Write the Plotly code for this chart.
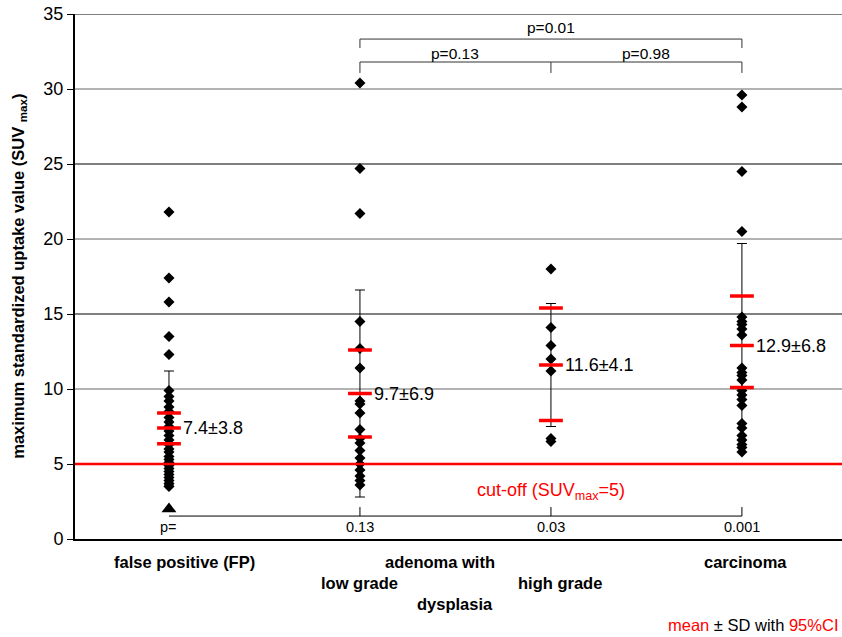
import plotly.graph_objects as go

# ---------------- data ----------------
group_pos = [1, 2, 3, 4]
fp_values = [21.8, 17.4, 15.8, 13.5, 12.3, 9.9, 9.5, 9.2, 8.8, 8.5, 8.1, 7.8, 7.5, 7.2,
             6.9, 6.6, 6.3, 6.0, 5.8, 5.5, 5.3, 5.1, 4.9, 4.7, 4.5, 4.3, 4.1, 3.9,
             3.7, 3.5]
fp_excluded = [2.0]
lg_values = [30.4, 24.7, 21.7, 14.5, 12.7, 11.4, 9.2, 9.0, 8.4, 7.3, 6.7, 6.4, 5.9,
             5.4, 5.0, 4.6, 4.2, 3.9, 3.6]
hg_values = [18.0, 14.1, 12.9, 12.0, 11.2, 6.7, 6.5]
ca_values = [29.6, 28.8, 24.5, 20.5, 14.8, 14.5, 14.3, 14.0, 13.6, 11.4, 11.1, 10.9,
             10.6, 9.9, 9.6, 9.3, 8.9, 7.7, 7.4, 6.9, 6.6, 6.3, 6.1, 5.8]
means = [7.4, 9.7, 11.6, 12.9]
sds = [3.8, 6.9, 4.1, 6.8]
ci_low = [6.35, 6.8, 7.9, 10.1]
ci_high = [8.4, 12.6, 15.4, 16.2]
p_vs_fp = ["p=", "0.13", "0.03", "0.001"]
pair_p = {"lg_hg": "p=0.13", "hg_ca": "p=0.98", "lg_ca": "p=0.01"}
cutoff = 5
y_ticks = [0, 5, 10, 15, 20, 25, 30, 35]
Y_MAX = 35

FONT = "Liberation Sans, Arial, sans-serif"


def ypaper(v):
    return v / Y_MAX


fig = go.Figure()

# error bars (mean ± SD)
fig.add_trace(go.Scatter(
    x=group_pos, y=means, mode="markers",
    marker=dict(size=1, color="rgba(0,0,0,0)"),
    error_y=dict(type="data", array=sds, visible=True, color="black",
                 thickness=1, width=5),
    showlegend=False, hoverinfo="skip"))

# data points
groups = [fp_values, lg_values, hg_values, ca_values]
for pos, vals in zip(group_pos, groups):
    fig.add_trace(go.Scatter(
        x=[pos] * len(vals), y=vals, mode="markers",
        marker=dict(symbol="diamond", size=8.5, color="black"),
        showlegend=False))

fig.add_trace(go.Scatter(
    x=[group_pos[0]] * len(fp_excluded), y=fp_excluded, mode="markers",
    marker=dict(symbol="triangle-up", size=13, color="black"),
    showlegend=False))

# red mean and CI bars
for arr in (means, ci_low, ci_high):
    fig.add_trace(go.Scatter(
        x=group_pos, y=arr, mode="markers",
        marker=dict(symbol="line-ew", size=17, line=dict(color="red", width=3.5)),
        showlegend=False))

shapes = []
# gridlines
for t in y_ticks[1:]:
    if t == cutoff:
        continue
    col = "black" if t % 10 == 5 else "#666666"
    shapes.append(dict(type="line", xref="paper", x0=0, x1=1, yref="y", y0=t, y1=t,
                       line=dict(color=col, width=1), layer="below"))
# cut-off line
shapes.append(dict(type="line", xref="paper", x0=0, x1=1, yref="y", y0=cutoff, y1=cutoff,
                   line=dict(color="red", width=2.5)))

# inner p-value axis
p_line_y = 1.53
shapes.append(dict(type="line", x0=group_pos[0], x1=group_pos[-1], y0=p_line_y, y1=p_line_y,
                   line=dict(color="black", width=1)))
for pos in group_pos[1:]:
    shapes.append(dict(type="line", x0=pos, x1=pos, y0=p_line_y, y1=p_line_y + 0.6,
                       line=dict(color="black", width=1)))

# comparison brackets
bc = "#333333"
top_y, top_tick = 33.33, 32.73
low_y, low_tick = 31.8, 31.07
shapes.append(dict(type="line", x0=group_pos[1], x1=group_pos[3], y0=top_y, y1=top_y,
                   line=dict(color=bc, width=1)))
for pos in (group_pos[1], group_pos[3]):
    shapes.append(dict(type="line", x0=pos, x1=pos, y0=top_y, y1=top_tick,
                       line=dict(color=bc, width=1)))
shapes.append(dict(type="line", x0=group_pos[1], x1=group_pos[3], y0=low_y, y1=low_y,
                   line=dict(color=bc, width=1)))
for pos in group_pos[1:]:
    shapes.append(dict(type="line", x0=pos, x1=pos, y0=low_y, y1=low_tick,
                       line=dict(color=bc, width=1)))

annotations = []
# mean ± SD labels
for pos, m, s in zip(group_pos, means, sds):
    annotations.append(dict(x=pos, y=m, text=f"{m:.1f}±{s:.1f}", showarrow=False,
                            xanchor="left", xshift=12, yshift=0,
                            font=dict(size=18, color="black", family=FONT)))
# p vs FP labels
for pos, p in zip(group_pos, p_vs_fp):
    annotations.append(dict(x=pos, y=0.8, text=p, showarrow=False,
                            font=dict(size=14.5, color="black", family=FONT)))
# bracket labels
annotations.append(dict(x=(group_pos[1] + group_pos[3]) / 2, y=34.13, text=pair_p["lg_ca"],
                        showarrow=False, font=dict(size=15.5, color="black", family=FONT)))
annotations.append(dict(x=(group_pos[1] + group_pos[2]) / 2, y=32.4, text=pair_p["lg_hg"],
                        showarrow=False, font=dict(size=15.5, color="black", family=FONT)))
annotations.append(dict(x=(group_pos[2] + group_pos[3]) / 2, y=32.4, text=pair_p["hg_ca"],
                        showarrow=False, font=dict(size=15.5, color="black", family=FONT)))
# cut-off label
annotations.append(dict(x=3.0, y=3.2, text="cut-off (SUV<sub>max</sub>=5)", showarrow=False,
                        font=dict(size=18, color="red", family=FONT)))
# category labels
cat_labels = [
    ("false positive (FP)", 1.08, -1.53),
    ("adenoma with", 2.42, -1.53),
    ("low grade", 2.0, -2.93),
    ("dysplasia", 2.5, -4.33),
    ("high grade", 3.05, -2.93),
    ("carcinoma", 4.02, -1.53),
]
for txt, xx, yy in cat_labels:
    annotations.append(dict(x=xx, yref="paper", y=ypaper(yy), yanchor="middle",
                            text=f"<b>{txt}</b>", showarrow=False,
                            font=dict(size=16.5, color="black", family=FONT)))
# legend note
annotations.append(dict(xref="paper", x=1, xanchor="right", xshift=-2,
                        yref="paper", y=ypaper(-5.73), yanchor="middle",
                        text='<span style="color:red">mean</span> ± SD with '
                             '<span style="color:red">95%CI</span>',
                        showarrow=False, font=dict(size=16.5, color="black", family=FONT)))
# y title
annotations.append(dict(xref="paper", yref="paper", x=-0.074, xanchor="center",
                        y=0.5, yanchor="middle", textangle=-90,
                        text="<b>maximum standardized uptake value (SUV <sub>max</sub>)</b>",
                        showarrow=False, font=dict(size=16.5, color="black", family=FONT)))

fig.update_layout(
    width=842, height=637,
    margin=dict(l=75, r=0, t=14, b=98),
    paper_bgcolor="white", plot_bgcolor="white",
    shapes=shapes, annotations=annotations,
    font=dict(family=FONT, color="black"),
    xaxis=dict(range=[0.508, 4.524], showgrid=False, zeroline=False, showticklabels=False,
               showline=True, linecolor="black", linewidth=2, ticks=""),
    yaxis=dict(range=[0, Y_MAX + 0.001], tickvals=y_ticks, showgrid=False, zeroline=False,
               showline=True, linecolor="black", linewidth=2, ticks="outside",
               ticklen=6, tickcolor="black", ticklabeloverflow="allow",
               tickfont=dict(size=18, family=FONT)),
)

fig.write_html("out.html",
               config={"displayModeBar": False},
               post_script="document.body.style.margin='0';")
